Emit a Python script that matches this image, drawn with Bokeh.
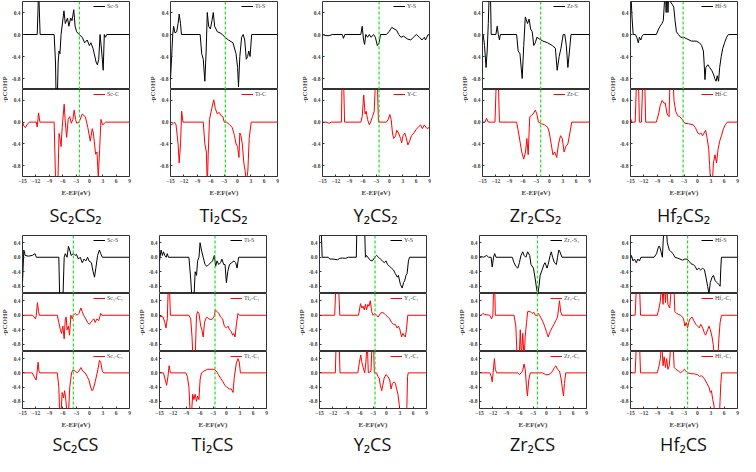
import math
from bokeh.plotting import figure
from bokeh.layouts import row, column
from bokeh.models import (Range1d, Span, Label, FixedTicker, Spacer, Legend, LegendItem,
                          PrintfTickFormatter)
from bokeh.embed import file_html
from bokeh.resources import INLINE

# ---------------- data: pCOHP curves as (E-EF, -pCOHP) points ----------------
SC2CS2_SC_S = [(-15,0),(-11.7,0),(-11.5,0.5),(-11.4,0.9),(-11.25,0.5),(-11.05,0),(-7.9,0),(-7.6,-0.5),(-7.45,-1.2),(-7.2,-1.2),(-7.0,-0.5),(-6.8,-0.3),(-6.6,-0.35),(-6.35,0.0),(-5.7,0.43),(-5.4,0.2),(-4.9,0.3),(-4.6,0.15),(-4.2,0.3),(-3.9,0.25),(-3.5,0.45),(-3.2,0.15),(-2.85,0.05),(-2.3,0.0),(-1.6,-0.05),(-1.05,-0.15),(-0.5,-0.1),(0,-0.2),(0.35,-0.15),(0.8,-0.25),(1.1,-0.35),(1.5,-0.5),(1.8,-0.55),(2.1,-0.45),(2.4,0.0),(2.75,-0.3),(3.1,-0.65),(3.35,0.0),(3.6,-0.05),(3.9,0),(9,0)]
SC2CS2_SC_C = [(-15,0),(-14.7,-0.07),(-14.35,-0.1),(-14.0,-0.05),(-13.5,0),(-11.9,0),(-11.7,-0.09),(-11.4,0.17),(-11.1,0),(-7.9,0),(-7.55,-1.2),(-7.1,-1.2),(-6.8,-0.21),(-6.6,-0.3),(-6.35,-0.45),(-6.1,-0.1),(-5.65,0.33),(-5.4,0.0),(-5.1,-0.28),(-4.75,0.05),(-4.4,0.1),(-4.05,-0.02),(-3.7,0.05),(-3.4,0.22),(-3.1,0.05),(-2.85,-0.02),(-2.3,0.0),(-1.6,0.15),(-0.9,0.1),(-0.35,-0.1),(0.2,-0.35),(0.65,-0.12),(0.9,-0.2),(1.4,-0.59),(1.7,-0.55),(2.0,-1.0),(2.3,-0.5),(2.6,0.05),(2.95,-0.05),(3.3,-0.03),(3.6,0),(9,0)]

TI2CS2_TI_S = [(-15,-0.8),(-14.8,-0.5),(-14.5,0.0),(-14.3,0.15),(-14.0,0.03),(-13.6,0.05),(-13.3,0.2),(-13.05,0.37),(-12.75,0.2),(-12.55,0.0),(-8.35,0.0),(-8.0,-0.35),(-7.65,-0.45),(-7.3,-0.85),(-7.0,-0.3),(-6.75,0.4),(-6.45,0.15),(-6.05,0.1),(-5.7,0.25),(-5.4,0.4),(-5.1,0.15),(-4.5,0.05),(-3.9,0.03),(-3.4,0.0),(-2.75,-0.05),(-2.0,-0.1),(-1.0,-0.15),(-0.3,-0.35),(0.05,-0.6),(0.25,-0.95),(0.55,-0.4),(0.95,-0.05),(1.3,0.0),(1.65,-0.1),(2.0,-0.45),(2.3,-0.4),(2.55,-0.3),(2.85,-0.4),(3.2,0.0),(9,0)]
TI2CS2_TI_C = [(-15,-0.06),(-14.45,-0.03),(-14.1,0.0),(-13.75,-0.05),(-13.3,-0.4),(-13.05,-0.75),(-12.75,-0.4),(-12.5,0.2),(-12.2,0.0),(-7.65,0.0),(-7.3,-0.4),(-6.95,-0.55),(-6.75,-1.2),(-6.55,-0.6),(-6.25,0.05),(-5.75,0.25),(-5.3,0.41),(-4.95,0.25),(-4.5,0.15),(-4.1,0.18),(-3.65,0.12),(-3.25,0.1),(-2.95,0.0),(-2.4,0.0),(-1.7,-0.05),(-1.15,-0.1),(-0.65,-0.25),(-0.3,-0.4),(0.05,-0.45),(0.35,-0.65),(0.55,-0.2),(0.8,-0.25),(1.1,-0.4),(1.45,-0.75),(1.75,-0.9),(2.0,-1.1),(2.35,-0.9),(2.65,-0.3),(3.1,0.0),(9,0)]

Y2CS2_Y_S = [(-15,0),(-14.2,-0.02),(-13.5,-0.02),(-12.8,0),(-10.55,0),(-10.3,-0.07),(-10.0,0),(-6.4,0),(-6.1,0.15),(-5.8,-0.1),(-5.55,-0.18),(-5.3,0.0),(-4.9,-0.05),(-4.5,0.0),(-4.1,-0.05),(-3.55,0.0),(-3.15,-0.05),(-2.7,-0.2),(-2.3,-0.15),(-2.0,0.0),(-0.65,0.0),(-0.1,0.05),(0.55,0.13),(1.1,0.1),(1.6,0.08),(2.1,0.0),(2.6,-0.05),(3.2,-0.03),(4.0,-0.08),(4.8,-0.1),(5.4,-0.05),(6.05,0.0),(6.75,-0.05),(7.3,-0.1),(7.85,-0.05),(8.1,-0.1),(8.7,0.0),(9,-0.02)]
Y2CS2_Y_C = [(-15,0),(-14.2,0),(-13.5,-0.02),(-13.0,0),(-10.75,0),(-10.6,0.9),(-10.3,0.9),(-10.05,0),(-6.4,0),(-6.1,0.1),(-5.75,0.5),(-5.45,0.15),(-5.2,0.2),(-4.9,0.05),(-4.5,-0.05),(-4.2,0.0),(-3.8,0.1),(-3.4,0.2),(-3.05,0.9),(-2.65,0.6),(-2.45,0.0),(-0.65,0.0),(-0.25,0.05),(0.1,0.14),(0.4,0.05),(0.7,-0.2),(0.95,-0.3),(1.4,-0.25),(1.65,-0.15),(2.05,-0.2),(2.5,-0.3),(2.75,-0.38),(3.05,-0.25),(3.45,-0.2),(3.75,-0.28),(4.15,-0.42),(4.55,-0.35),(4.95,-0.25),(5.5,-0.2),(6.05,-0.13),(6.6,-0.08),(7.0,-0.05),(7.4,-0.12),(7.85,-0.05),(8.25,-0.1),(8.65,-0.12),(9,-0.08)]

ZR2CS2_ZR_S = [(-15,0),(-14.85,0.0),(-14.55,-0.2),(-14.2,-0.6),(-13.95,-0.3),(-13.7,0.2),(-13.45,0.9),(-13.25,0.9),(-13.05,0.0),(-12.0,0.0),(-11.7,0.15),(-11.45,0.0),(-11.2,-0.1),(-11.0,0.0),(-7.35,0.0),(-7.0,-0.3),(-6.6,-0.35),(-6.1,-0.8),(-5.75,-0.2),(-5.4,0.32),(-4.9,0.2),(-4.55,0.28),(-4.2,0.1),(-3.85,0.05),(-3.5,-0.2),(-3.15,-0.15),(-2.8,-0.05),(-2.25,-0.08),(-1.45,-0.12),(-0.4,-0.15),(0.65,-0.2),(1.35,-0.25),(1.75,-0.65),(2.2,-0.4),(2.6,-0.25),(3.1,0.0),(3.45,0.0),(3.8,-0.2),(4.15,-0.6),(4.5,-0.3),(4.85,0.0),(9,0)]
ZR2CS2_ZR_C = [(-15,0),(-14.45,0.0),(-14.1,0.07),(-13.7,0.0),(-12.2,0.0),(-11.85,0.9),(-11.5,0.9),(-11.2,0.0),(-7.35,0.0),(-7.0,-0.15),(-6.6,-0.35),(-6.2,-0.55),(-5.75,-0.68),(-5.35,-0.55),(-5.05,-0.3),(-4.75,-0.6),(-4.4,0.1),(-4.05,0.12),(-3.65,0.15),(-3.15,0.22),(-2.8,0.15),(-2.45,0.0),(-1.75,-0.03),(-1.05,-0.05),(-0.35,-0.1),(0.0,-0.2),(0.4,-0.4),(0.8,-0.6),(1.2,-0.55),(1.65,-0.65),(2.05,-0.4),(2.5,-0.25),(2.9,-0.3),(3.3,-0.55),(3.7,-0.45),(4.15,-0.4),(4.6,-0.2),(5.0,0.0),(9,0)]

HF2CS2_HF_S = [(-15,0.9),(-14.65,0.3),(-14.4,0.0),(-13.9,0.0),(-13.6,-0.05),(-13.25,-0.15),(-13.0,-0.05),(-12.7,-0.1),(-12.4,-0.03),(-12.1,0.0),(-9.2,0.0),(-8.7,0.1),(-8.35,0.15),(-7.95,0.2),(-7.65,0.25),(-7.45,0.5),(-7.2,0.9),(-7.0,0.4),(-6.8,0.9),(-6.6,0.4),(-6.35,0.9),(-6.1,0.6),(-5.65,0.55),(-5.3,0.5),(-5.0,0.25),(-4.7,0.05),(-4.25,0.0),(-3.75,-0.05),(-3.05,-0.05),(-2.35,-0.08),(-1.3,-0.12),(-0.25,-0.12),(0.45,-0.15),(0.95,-0.2),(1.35,-0.3),(1.5,-0.5),(1.7,-0.82),(1.9,-0.6),(2.35,-0.55),(2.75,-0.6),(3.2,-0.65),(3.6,-0.72),(3.9,-0.8),(4.2,-0.85),(4.45,-0.75),(4.75,-0.85),(5.0,-0.6),(5.35,-0.4),(5.7,-0.25),(6.1,-0.15),(6.55,-0.05),(6.95,0.0),(9,0)]
HF2CS2_HF_C = [(-15,0.07),(-14.7,0.0),(-13.95,0.0),(-13.6,0.9),(-13.25,0.9),(-13.0,0.0),(-12.55,0.0),(-12.2,0.9),(-11.85,0.9),(-11.6,0.0),(-9.2,0.0),(-8.7,0.15),(-8.35,0.3),(-7.9,0.4),(-7.5,0.35),(-7.2,0.35),(-6.8,0.15),(-6.35,0.1),(-6.1,0.9),(-5.5,0.9),(-5.25,0.4),(-4.85,0.2),(-4.45,0.12),(-3.95,0.1),(-3.4,0.05),(-2.85,-0.02),(-2.0,-0.03),(-0.95,-0.05),(-0.45,-0.1),(0.1,-0.2),(0.5,-0.22),(0.8,-0.2),(1.15,-0.25),(1.5,-0.2),(1.85,-0.15),(2.2,-0.3),(2.55,-0.5),(2.75,-0.8),(3.05,-1.2),(3.3,-1.2),(3.6,-0.75),(3.95,-0.6),(4.3,-0.75),(4.65,-0.5),(5.0,-0.35),(5.4,-0.25),(5.85,-0.12),(6.25,-0.05),(6.7,0.0),(9,0)]

SC2CS_SC_S = [(-15,-0.7),(-14.7,0.2),(-14.4,0.05),(-13.7,0.03),(-12.8,0.05),(-12.2,0.1),(-11.9,0.0),(-6.85,0.0),(-6.65,-1.2),(-5.95,-1.2),(-5.65,0.0),(-5.4,0.1),(-5.0,0.0),(-4.7,0.3),(-4.4,0.2),(-4.1,0.05),(-3.6,0.1),(-3.2,0.05),(-2.9,0.08),(-2.45,-0.05),(-2.05,0.0),(-1.6,-0.15),(-1.2,-0.05),(-0.8,-0.1),(-0.4,0.0),(-0.1,-0.1),(0.45,-0.15),(0.85,-0.4),(1.15,-0.55),(1.45,-0.3),(1.85,0.05),(2.25,0.2),(2.55,0.1),(2.9,0.0),(9,0)]
SC2CS_SC2_C = [(-15,0),(-12.8,0),(-12.35,-0.05),(-12.1,-0.1),(-11.9,0.0),(-11.65,0.35),(-11.4,0.1),(-11.2,0.0),(-7.2,0.0),(-6.85,-0.2),(-6.5,-0.4),(-6.25,-0.5),(-5.95,-0.3),(-5.65,-0.65),(-5.4,-0.1),(-5.2,-0.05),(-5.0,-0.4),(-4.7,-0.3),(-4.45,-0.55),(-4.15,0.0),(-3.85,-0.1),(-3.6,0.0),(-3.2,0.05),(-2.75,0.0),(-2.35,0.05),(-1.9,0.2),(-1.6,0.1),(-1.3,0.0),(-0.8,-0.1),(-0.4,-0.2),(0.0,-0.25),(0.3,-0.2),(0.6,-0.15),(1.0,-0.1),(1.3,-0.2),(1.7,-0.1),(2.1,-0.15),(2.55,0.05),(2.8,0.0),(9,0)]
SC2CS_SC1_C = [(-15,0),(-12.8,0),(-12.4,-0.1),(-11.95,-0.2),(-11.75,0.0),(-11.5,0.3),(-11.3,0.05),(-11.1,0.0),(-7.2,0.0),(-6.85,-0.4),(-6.65,-1.2),(-6.4,-1.2),(-6.1,-0.55),(-5.8,-0.7),(-5.55,-0.5),(-5.25,-0.8),(-5.0,-1.2),(-4.7,-1.2),(-4.4,-0.4),(-4.0,0.0),(-3.7,0.08),(-3.15,0.05),(-2.75,0.0),(-2.35,0.05),(-1.9,0.15),(-1.5,0.05),(-0.95,0.0),(-0.5,-0.1),(-0.1,-0.2),(0.3,-0.4),(0.6,-0.5),(0.9,-0.45),(1.3,-0.25),(1.85,0.05),(2.25,0.35),(2.55,0.3),(2.9,0.05),(3.25,0.0),(9,0)]

TI2CS_TI_S = [(-15,-0.1),(-14.65,0.2),(-14.35,0.05),(-14.1,0.15),(-13.8,0.05),(-13.5,0.0),(-13.25,0.1),(-13.0,0.0),(-8.4,0.0),(-8.0,-0.6),(-7.7,-1.2),(-7.3,-1.2),(-7.0,-0.4),(-6.7,-0.5),(-6.45,-0.1),(-6.15,0.0),(-5.9,0.4),(-5.6,0.2),(-5.2,0.0),(-4.8,-0.2),(-4.35,-0.25),(-3.95,-0.2),(-3.5,-0.15),(-3.1,-0.1),(-2.7,0.05),(-2.4,-0.25),(-2.1,-0.1),(-1.7,-0.2),(-1.3,-0.15),(-1.0,-0.05),(-0.6,-0.2),(-0.3,-0.2),(0.0,-0.7),(0.3,-0.4),(0.7,-0.2),(1.2,-0.15),(1.7,-0.1),(2.1,-0.15),(2.4,-0.3),(2.75,0.0),(9,0)]
TI2CS_TI2_C = [(-15,-0.05),(-14.65,-0.03),(-14.2,-0.05),(-13.8,-0.2),(-13.55,-0.35),(-13.25,-0.1),(-13.0,0.9),(-12.8,0.9),(-12.55,0.0),(-8.4,0.0),(-8.0,-0.1),(-7.7,-0.6),(-7.5,-1.2),(-7.0,-1.2),(-6.7,0.0),(-6.45,0.1),(-6.15,0.05),(-5.75,-0.3),(-5.5,-0.4),(-5.2,-0.6),(-4.9,-0.2),(-4.65,-0.1),(-4.35,-0.05),(-3.95,-0.1),(-3.5,-0.12),(-3.1,-0.1),(-2.8,-0.05),(-2.45,0.15),(-2.1,0.1),(-1.7,0.05),(-1.3,-0.05),(-0.85,-0.1),(-0.45,-0.3),(0.0,-0.35),(0.4,-0.3),(0.7,-0.4),(1.1,-0.45),(1.4,-0.55),(1.65,-0.5),(1.95,-0.6),(2.2,-0.3),(2.6,0.05),(2.9,0.0),(9,0)]
TI2CS_TI1_C = [(-15,0),(-14.1,0),(-13.7,-0.2),(-13.4,-0.35),(-13.1,-0.1),(-12.85,0.2),(-12.55,0.0),(-9.1,0.0),(-8.75,-0.1),(-8.4,-0.4),(-8.1,-1.2),(-7.85,-1.2),(-7.55,-0.6),(-7.3,-0.75),(-7.0,-0.6),(-6.7,-0.8),(-6.45,-0.65),(-6.15,-0.75),(-5.9,-0.2),(-5.6,0.0),(-5.05,0.05),(-4.2,0.1),(-3.5,0.1),(-2.8,0.1),(-2.25,0.05),(-1.8,-0.05),(-1.3,-0.15),(-0.75,-0.25),(-0.35,-0.35),(0.1,-0.4),(0.65,-0.45),(1.1,-0.45),(1.5,-0.55),(1.75,-0.15),(2.2,0.25),(2.6,0.4),(2.9,0.3),(3.15,0.0),(9,0)]

Y2CS_Y_S = [(-15,0.9),(-14.65,0.9),(-14.4,0.0),(-13.05,0.0),(-12.7,-0.05),(-12.0,-0.05),(-10.95,-0.07),(-10.45,-0.03),(-9.9,-0.02),(-9.2,-0.03),(-8.5,0.0),(-6.75,0.0),(-6.6,0.9),(-4.9,0.9),(-4.7,0.0),(-4.45,0.05),(-3.85,-0.05),(-3.45,-0.1),(-3.0,-0.08),(-2.6,0.0),(-2.2,0.05),(-1.75,0.0),(-1.35,-0.05),(-0.9,-0.1),(-0.45,-0.15),(-0.1,-0.1),(0.25,-0.2),(0.7,-0.25),(1.15,-0.3),(1.6,-0.35),(2.0,-0.45),(2.45,-0.55),(2.7,-0.5),(3.15,-0.75),(3.55,-0.85),(3.85,-0.7),(4.1,-0.65),(4.4,-0.5),(4.65,-0.45),(4.95,-0.1),(5.2,0.0),(9,0)]
Y2CS_Y2_C = [(-15,0),(-11.6,0),(-11.3,0.9),(-10.75,0.9),(-10.45,0.0),(-6.25,0.0),(-5.8,0.32),(-5.5,0.2),(-5.25,0.25),(-4.95,0.15),(-4.7,0.3),(-4.45,0.15),(-4.15,0.3),(-3.9,0.25),(-3.6,0.4),(-3.3,0.1),(-3.0,0.0),(-2.6,0.05),(-2.2,0.0),(-1.85,-0.05),(-1.35,0.05),(-0.95,0.08),(-0.5,0.05),(-0.1,0.0),(0.35,-0.05),(0.75,-0.1),(1.15,-0.2),(1.6,-0.25),(2.0,-0.25),(2.4,-0.35),(2.7,-0.3),(3.05,-0.4),(3.4,-0.6),(3.7,-0.5),(3.95,-0.55),(4.25,-0.6),(4.5,-0.4),(4.8,0.0),(9,0)]
Y2CS_Y1_C = [(-15,0),(-11.45,0),(-11.25,0.9),(-10.6,0.9),(-10.4,0.0),(-6.4,0.0),(-6.05,0.3),(-5.75,0.5),(-5.5,0.3),(-5.2,0.15),(-4.85,0.0),(-4.6,0.3),(-4.3,0.9),(-4.05,0.0),(-3.45,0.05),(-3.2,0.9),(-2.9,0.9),(-2.7,0.0),(-2.2,0.0),(-1.9,-0.1),(-1.6,-0.15),(-1.35,-0.35),(-1.05,-0.5),(-0.8,-0.35),(-0.5,-0.15),(-0.1,-0.05),(0.35,-0.1),(0.75,-0.2),(1.05,-0.45),(1.35,-0.3),(1.75,-0.25),(2.05,-0.3),(2.3,-0.45),(2.6,-0.6),(2.85,-0.85),(3.1,-1.2),(4.55,-1.2),(4.75,-0.1),(4.9,0.0),(9,0)]

ZR2CS_ZR_S = [(-15,0),(-14.65,0.02),(-14.1,0.0),(-13.4,0.05),(-12.95,0.0),(-12.4,0.0),(-12.15,-0.27),(-11.85,0.0),(-11.6,0.1),(-11.3,0.0),(-7.65,0.0),(-7.25,-0.15),(-6.85,-0.25),(-6.4,-0.3),(-6.05,-0.15),(-5.7,0.05),(-5.3,0.15),(-5.0,0.05),(-4.6,0.0),(-4.2,0.15),(-3.75,0.05),(-3.45,-0.2),(-2.9,-0.3),(-2.5,-0.6),(-2.15,-0.9),(-1.9,-1.0),(-1.65,-0.8),(-1.4,-0.5),(-0.95,-0.35),(-0.55,-0.2),(-0.3,-0.15),(0.15,-0.3),(0.4,-0.2),(0.85,0.05),(1.1,0.15),(1.4,0.0),(1.8,-0.15),(2.25,-0.2),(2.5,0.0),(2.8,0.2),(3.05,0.15),(3.5,0.0),(9,0)]
ZR2CS_ZR2_C = [(-15,0),(-14.65,0.0),(-14.25,0.05),(-13.8,0.02),(-12.7,0.0),(-12.3,-0.1),(-12.0,0.0),(-11.8,0.9),(-11.6,0.9),(-11.45,0.0),(-7.25,0.0),(-6.85,-0.3),(-6.55,-1.2),(-6.1,-1.2),(-5.85,-0.4),(-5.6,-1.2),(-5.3,-0.5),(-5.0,-1.2),(-4.75,-0.6),(-4.45,-0.2),(-4.2,0.1),(-3.6,0.1),(-3.2,0.05),(-2.8,0.08),(-2.5,0.0),(-2.1,0.0),(-1.8,0.05),(-1.55,0.0),(-1.1,-0.1),(-0.7,-0.2),(-0.4,-0.3),(0.0,-0.45),(0.4,-0.6),(0.85,-0.45),(1.25,-0.35),(1.7,-0.25),(2.1,-0.15),(2.5,-0.05),(2.95,0.4),(3.2,0.1),(3.5,0.0),(9,0)]
ZR2CS_ZR1_C = [(-15,0),(-12.7,0.0),(-12.35,-0.1),(-12.15,-0.25),(-11.95,0.0),(-11.65,0.4),(-11.45,0.1),(-11.15,0.0),(-6.4,0.0),(-6.05,-0.05),(-5.7,0.0),(-5.35,0.05),(-5.0,0.25),(-4.75,0.1),(-4.45,-0.4),(-4.25,-0.65),(-3.95,-0.2),(-3.6,0.0),(-1.9,0.0),(-0.85,0.0),(-0.15,-0.05),(0.4,-0.05),(0.9,-0.02),(1.4,0.05),(1.8,0.15),(2.1,0.2),(2.5,0.1),(2.95,0.05),(3.35,-0.2),(3.65,-0.5),(3.85,-0.65),(4.05,-0.3),(4.35,0.0),(9,0)]

HF2CS_HF_S = [(-15,0.0),(-14.8,0.05),(-14.45,-0.1),(-14.1,-0.05),(-13.7,-0.15),(-13.35,-0.05),(-13.0,-0.1),(-12.65,0.0),(-9.7,0.0),(-9.15,0.1),(-8.7,0.3),(-8.45,0.3),(-8.15,0.15),(-7.85,0.0),(-7.6,0.6),(-7.5,0.9),(-7.0,0.9),(-6.75,0.4),(-6.3,0.2),(-5.9,0.15),(-5.45,0.1),(-5.05,0.0),(-4.5,-0.02),(-3.9,-0.05),(-3.35,-0.08),(-2.8,-0.05),(-2.35,-0.05),(-1.8,-0.12),(-1.4,-0.18),(-0.95,-0.2),(-0.5,-0.25),(-0.1,-0.35),(0.3,-0.3),(0.75,-0.35),(1.2,-0.3),(1.6,-0.35),(2.0,-0.6),(2.3,-0.8),(2.6,-1.0),(2.9,-0.7),(3.3,-0.55),(3.6,-0.5),(4.0,-0.65),(4.4,-0.7),(4.8,-0.75),(5.1,-0.8),(5.25,-0.3),(5.4,0.0),(9,0)]
HF2CS_HF2_C = [(-15,0),(-13.95,0.0),(-13.65,0.9),(-13.0,0.9),(-12.75,0.0),(-9.0,0.0),(-8.6,0.2),(-8.3,0.4),(-8.0,0.9),(-7.7,0.3),(-7.45,0.9),(-7.15,0.35),(-6.9,0.9),(-6.6,0.3),(-6.2,0.2),(-5.75,0.9),(-5.3,0.9),(-5.05,0.1),(-4.65,0.05),(-4.2,0.02),(-3.75,0.0),(-3.35,-0.05),(-3.1,-0.1),(-2.8,-0.3),(-2.5,-0.2),(-2.2,-0.35),(-1.95,-0.2),(-1.65,-0.1),(-1.2,-0.05),(-0.8,-0.15),(-0.35,-0.25),(0.05,-0.3),(0.45,-0.35),(0.75,-0.25),(1.2,-0.35),(1.6,-0.5),(1.85,-0.55),(2.3,-0.4),(2.6,-0.3),(2.9,-0.4),(3.3,-0.6),(3.55,-0.8),(3.85,-1.2),(4.55,-1.2),(4.85,-0.6),(5.1,-0.2),(5.4,0.0),(9,0)]
HF2CS_HF1_C = [(-15,0),(-13.95,0.0),(-13.65,0.9),(-13.0,0.9),(-12.75,0.0),(-9.0,0.0),(-8.6,0.2),(-8.3,0.4),(-8.0,0.9),(-7.7,0.2),(-7.45,0.45),(-7.15,0.15),(-6.9,0.4),(-6.6,0.1),(-6.3,0.2),(-5.9,0.9),(-5.5,0.9),(-5.2,0.15),(-4.8,0.1),(-4.2,0.05),(-3.75,0.0),(-3.35,0.05),(-2.9,0.1),(-2.6,0.05),(-2.2,0.0),(-1.35,-0.02),(-0.65,-0.03),(0.05,-0.05),(0.45,-0.1),(0.9,-0.08),(1.3,-0.12),(1.75,-0.2),(2.15,-0.3),(2.6,-0.4),(2.9,-0.55),(3.15,-0.5),(3.45,-0.75),(3.7,-0.9),(4.0,-1.2),(4.95,-1.2),(5.25,-0.3),(5.45,0.0),(9,0)]

# Fermi-level marker positions (green dashed lines)
EF_TOP = [-2.23, -2.7, -2.31, -1.95, -3.2]
EF_BOTTOM = [-3.6, -2.55, -2.55, -2.0, -2.2]

TITLES_TOP = ["Sc\u2082CS\u2082", "Ti\u2082CS\u2082", "Y\u2082CS\u2082", "Zr\u2082CS\u2082", "Hf\u2082CS\u2082"]
TITLES_BOTTOM = ["Sc\u2082CS", "Ti\u2082CS", "Y\u2082CS", "Zr\u2082CS", "Hf\u2082CS"]

X_TICKS = [-15, -12, -9, -6, -3, 0, 3, 6, 9]
Y_TICKS = [-0.8, -0.4, 0.0, 0.4]
X_LIMITS = (-15, 9)
Y_LIMITS = (-1.0, 0.6)

# ---------------- layout constants ----------------
LW, LB, RB, BB, TB = 8, 13, 2, 22, 1
FW = 108
BLACK, RED, GREEN = "#000000", "#ff0000", "#22dd22"
SERIF = "Liberation Serif"


def subplot(pts, color, name, ef, fh, first, last):
    h = (TB if first else 0) + fh + (BB if last else 0)
    p = figure(width=LB + FW + RB, height=h,
               x_range=Range1d(*X_LIMITS), y_range=Range1d(*Y_LIMITS),
               output_backend="svg", toolbar_location=None, min_border=0,
               min_border_left=LB, min_border_right=RB,
               min_border_top=(TB if first else 0), min_border_bottom=(BB if last else 0))
    p.outline_line_color = "#333333"
    p.outline_line_width = 1
    p.grid.visible = False
    xs = [q[0] for q in pts]
    ys = [q[1] for q in pts]
    p.add_layout(Span(location=ef, dimension="height", line_color=GREEN,
                      line_dash="3 2", line_width=1.2))
    r = p.line(xs, ys, line_color=color, line_width=1)
    leg = Legend(items=[LegendItem(label=name, renderers=[r])], location="top_right",
                 margin=2, padding=1, spacing=0, glyph_width=12, glyph_height=6,
                 label_height=6, label_standoff=2, label_text_font=SERIF,
                 label_text_font_size="6px", background_fill_alpha=0,
                 border_line_color=None)
    p.add_layout(leg)
    p.yaxis.ticker = FixedTicker(ticks=Y_TICKS)
    p.yaxis.formatter = PrintfTickFormatter(format="%.1f")
    p.xaxis.ticker = FixedTicker(ticks=X_TICKS)
    for ax in p.axis:
        ax.major_tick_in = 2
        ax.major_tick_out = 0
        ax.minor_tick_in = 0
        ax.minor_tick_out = 0
        ax.axis_line_color = None
        ax.major_tick_line_color = "#333333"
        ax.major_label_text_font = SERIF
        ax.major_label_text_font_size = "5.5px"
        ax.major_label_text_font_style = "bold"
        ax.major_label_standoff = 2
    if last:
        p.xaxis.axis_label = "E-EF(eV)"
        p.xaxis.axis_label_text_font = SERIF
        p.xaxis.axis_label_text_font_size = "7px"
        p.xaxis.axis_label_text_font_style = "bold"
        p.xaxis.axis_label_standoff = 3
    else:
        p.xaxis.visible = False
    return p


def ylabel_fig(h, yc):
    p = figure(width=LW, height=h, x_range=Range1d(0, LW), y_range=Range1d(0, h),
               output_backend="svg", toolbar_location=None, min_border=0,
               x_axis_location=None, y_axis_location=None)
    p.outline_line_color = None
    p.grid.visible = False
    p.add_layout(Label(x=LW / 2, y=yc, text="-pCOHP", angle=math.pi / 2,
                       text_align="center", text_baseline="middle",
                       text_font=SERIF, text_font_size="7px", text_font_style="bold"))
    return p


def title_fig(text, h):
    w = LW + LB + FW + RB
    p = figure(width=w, height=h, x_range=Range1d(0, w), y_range=Range1d(0, h),
               output_backend="svg", toolbar_location=None, min_border=0,
               x_axis_location=None, y_axis_location=None)
    p.outline_line_color = None
    p.grid.visible = False
    p.add_layout(Label(x=LW + LB + FW / 2, y=h / 2, text=text,
                       text_align="center", text_baseline="middle",
                       text_font="Open Sans", text_font_size="18px", text_color="#111111"))
    return p


def panel(curves, ef, fh, title, th):
    n = len(curves)
    subs = [subplot(c[0], c[1], c[2], ef, fh, i == 0, i == n - 1) for i, c in enumerate(curves)]
    h = TB + n * fh + BB
    yc = h - (TB + n * fh / 2)
    return column(row(ylabel_fig(h, yc), column(*subs)), title_fig(title, th))


TOP_CURVES = [
    [(SC2CS2_SC_S, BLACK, "Sc-S"), (SC2CS2_SC_C, RED, "Sc-C")],
    [(TI2CS2_TI_S, BLACK, "Ti-S"), (TI2CS2_TI_C, RED, "Ti-C")],
    [(Y2CS2_Y_S, BLACK, "Y-S"), (Y2CS2_Y_C, RED, "Y-C")],
    [(ZR2CS2_ZR_S, BLACK, "Zr-S"), (ZR2CS2_ZR_C, RED, "Zr-C")],
    [(HF2CS2_HF_S, BLACK, "Hf-S"), (HF2CS2_HF_C, RED, "Hf-C")],
]
BOTTOM_CURVES = [
    [(SC2CS_SC_S, BLACK, "Sc-S"), (SC2CS_SC2_C, RED, "Sc\u2082-C\u2081"), (SC2CS_SC1_C, RED, "Sc\u2081-C\u2081")],
    [(TI2CS_TI_S, BLACK, "Ti-S"), (TI2CS_TI2_C, RED, "Ti\u2082-C\u2081"), (TI2CS_TI1_C, RED, "Ti\u2081-C\u2081")],
    [(Y2CS_Y_S, BLACK, "Y-S"), (Y2CS_Y2_C, RED, "Y\u2082-C\u2081"), (Y2CS_Y1_C, RED, "Y\u2081-C\u2081")],
    [(ZR2CS_ZR_S, BLACK, "Zr\u2081-S\u2084"), (ZR2CS_ZR2_C, RED, "Zr\u2082-C\u2081"), (ZR2CS_ZR1_C, RED, "Zr\u2081-C\u2081")],
    [(HF2CS_HF_S, BLACK, "Hf-S"), (HF2CS_HF2_C, RED, "Hf\u2082-C\u2081"), (HF2CS_HF1_C, RED, "Hf\u2081-C\u2081")],
]

PANEL_W = LW + LB + FW + RB
TOP_FRAME_LEFT = [29, 177, 329, 489, 637]
BOTTOM_FRAME_LEFT = [29, 166, 326, 486, 637]


def build_row(curves_list, efs, titles, lefts, fh, th):
    items = []
    x = 8
    for c, ef, t, fl in zip(curves_list, efs, titles, lefts):
        start = fl - LW - LB
        if start > x:
            items.append(Spacer(width=start - x, height=10))
        items.append(panel(c, ef, fh, t, th))
        x = start + PANEL_W
    return row(*items)


top = build_row(TOP_CURVES, EF_TOP, TITLES_TOP, TOP_FRAME_LEFT, 88, 30)
bottom = build_row(BOTTOM_CURVES, EF_BOTTOM, TITLES_BOTTOM, BOTTOM_FRAME_LEFT, 58, 25)
layout = column(top, Spacer(width=10, height=5), bottom)

open("out.html", "w").write(file_html(layout, INLINE))
